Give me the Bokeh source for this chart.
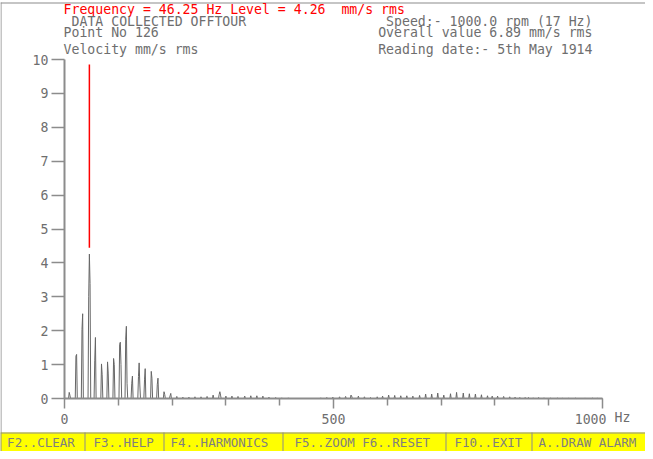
from bokeh.plotting import figure
from bokeh.models import Range1d, FixedTicker, Label, BoxAnnotation, ColumnDataSource
from bokeh.embed import file_html
from bokeh.resources import INLINE

# ---------------- data ----------------
cursor_text = "Frequency = 46.25 Hz Level = 4.26\u00a0 mm/s rms"
info_left = ["DATA COLLECTED OFFTOUR", "Point No 126", "Velocity mm/s rms"]
info_right = ["Speed:- 1000.0 rpm (17 Hz)", "Overall value 6.89 mm/s rms", "Reading date:- 5th May 1914"]
menu_items = ["F2..CLEAR", "F3..HELP", "F4..HARMONICS", "F5..ZOOM F6..RESET", "F10..EXIT", "A..DRAW ALARM"]

x_ticks = [0, 500, 1000]
x_tick_labels = {1000: "1000\u00a0\u00a0\u00a0"}   # last label sits left of its tick
x_minor_ticks = [100, 200, 300, 400, 600, 700, 800, 900]
y_ticks = [0, 1, 2, 3, 4, 5, 6, 7, 8, 9, 10]
x_unit = "Hz"

# spectral lines (Hz, mm/s rms); bins are 1.25 Hz apart
bin_hz = [8.75, 10.0,
          21.25, 22.5,
          32.5, 33.75,
          45.0, 46.25, 47.5,
          56.25, 57.5,
          68.75, 70.0,
          80.0, 81.25,
          91.25, 92.5,
          102.5, 103.75, 105.0,
          113.75, 115.0, 116.25,
          125.0, 126.25,
          137.5, 138.75, 140.0,
          148.75, 150.0,
          161.25, 162.5,
          172.5, 173.75,
          185.0, 186.25,
          196.25, 197.5,
          208.75, 220.0, 231.25, 242.5, 253.75, 265.0,
          276.25, 287.5, 288.75, 290.0,
          300.0, 311.25, 322.5, 335.0, 346.25, 357.5, 368.75, 380.0, 392.5, 403.75, 416.25,
          476.25, 487.5, 498.75, 511.25, 522.5, 532.5, 533.75, 546.25, 557.5, 568.75,
          581.25, 591.25, 602.5, 613.75, 625.0, 636.25, 647.5, 660.0, 671.25, 682.5,
          693.75, 705.0, 717.5, 728.75, 741.25, 752.5, 763.75, 775.0, 786.25, 795.0,
          805.0, 816.25, 827.5, 837.5, 846.25, 856.25, 862.5, 871.25, 881.25, 891.25,
          903.75, 916.25, 925.0, 937.5, 950.0, 967.5, 981.25, 990.0]
level = [0.18, 0.10,
         1.25, 1.30,
         2.03, 2.50,
         3.00, 4.26, 3.39,
         1.13, 1.80,
         1.02, 0.70,
         1.08, 0.75,
         1.18, 1.00,
         1.60, 1.66, 1.00,
         1.75, 2.13, 0.45,
         0.45, 0.66,
         0.65, 1.05, 0.40,
         0.55, 0.88,
         0.80, 0.60,
         0.42, 0.60,
         0.20, 0.12,
         0.08, 0.15,
         0.06, 0.04, 0.04, 0.05, 0.05, 0.06,
         0.10, 0.12, 0.20, 0.10,
         0.07, 0.07, 0.06, 0.07, 0.08, 0.08, 0.07, 0.04, 0.03, 0.02, 0.02,
         0.02, 0.03, 0.04, 0.05, 0.06, 0.10, 0.07, 0.07, 0.05, 0.03,
         0.05, 0.07, 0.10, 0.09, 0.08, 0.08, 0.07, 0.09, 0.13, 0.13,
         0.16, 0.10, 0.14, 0.18, 0.16, 0.14, 0.13, 0.11, 0.08, 0.07,
         0.07, 0.06, 0.05, 0.04, 0.03, 0.03, 0.03, 0.02, 0.03, 0.02,
         0.01, 0.01, 0.01, 0.01, 0.01, 0.01, 0.01, 0.01]

cursor_hz = 46.25
cursor_bottom = 4.45
cursor_top = 9.85

# ---------------- build spectrum trace ----------------
BIN = 1.25
xs, ys = [0.0], [0.0]
for i, (f, a) in enumerate(zip(bin_hz, level)):
    if i == 0 or f - bin_hz[i - 1] > BIN + 1e-6:
        xs.append(f - BIN); ys.append(0.0)
    xs.append(f); ys.append(a)
    if i == len(bin_hz) - 1 or bin_hz[i + 1] - f > BIN + 1e-6:
        xs.append(f + BIN); ys.append(0.0)
xs.append(1000.0); ys.append(0.0)
spec = ColumnDataSource(dict(x=xs, y=ys))

# ---------------- layout constants (pixels) ----------------
W, H = 645, 451
PX_X0, PX_X1 = 64.0, 602.0     # canvas x of 0 Hz and 1000 Hz
PX_Y0, PX_Y10 = 398.0, 59.0    # canvas y of level 0 and level 10
hz_per_px = 1000.0 / (PX_X1 - PX_X0)
lv_per_px = 10.0 / (PX_Y0 - PX_Y10)

GRAY = "#8c8c8c"
TXT = "#6e6e6e"
FONT = "DejaVu Sans Mono"
FS = "13.2px"

p = figure(width=W, height=H,
           x_range=Range1d(-PX_X0 * hz_per_px, 1000 + (W - PX_X1) * hz_per_px),
           y_range=Range1d(-(H - PX_Y0) * lv_per_px, 10 + PX_Y10 * lv_per_px),
           output_backend="svg", toolbar_location=None,
           min_border=0, min_border_left=0, min_border_right=0,
           min_border_top=0, min_border_bottom=0,
           background_fill_color="white", border_fill_color="white")
p.outline_line_color = None
p.xgrid.visible = False
p.ygrid.visible = False

xa = p.xaxis[0]
xa.fixed_location = 0
xa.bounds = (0, 1000)
xa.ticker = FixedTicker(ticks=x_ticks, minor_ticks=x_minor_ticks)
xa.major_label_overrides = x_tick_labels
xa.axis_line_color = GRAY
xa.axis_line_width = 2
xa.major_tick_line_color = GRAY
xa.minor_tick_line_color = GRAY
xa.major_tick_line_width = 1.5
xa.minor_tick_line_width = 1.5
xa.major_tick_in = 0
xa.major_tick_out = 10
xa.minor_tick_in = 0
xa.minor_tick_out = 7
xa.major_label_standoff = 3
xa.major_label_text_font = FONT
xa.major_label_text_font_size = FS
xa.major_label_text_color = TXT

ya = p.yaxis[0]
ya.fixed_location = 0
ya.bounds = (0, 10)
ya.ticker = FixedTicker(ticks=y_ticks, minor_ticks=[])
ya.axis_line_color = GRAY
ya.axis_line_width = 2
ya.major_tick_line_color = GRAY
ya.major_tick_line_width = 1.5
ya.major_tick_in = 0
ya.major_tick_out = 13
ya.minor_tick_out = 0
ya.minor_tick_in = 0
ya.major_label_standoff = 3
ya.major_label_text_font = FONT
ya.major_label_text_font_size = FS
ya.major_label_text_color = TXT

p.line("x", "y", source=spec, line_color="#666666", line_width=1)
p.segment(x0=[cursor_hz], y0=[cursor_bottom], x1=[cursor_hz], y1=[cursor_top],
          line_color="#ff0000", line_width=1.5)

# unit label next to the last tick
p.add_layout(Label(x=1000, y=0, x_offset=12, y_offset=-19, text=x_unit,
                   text_font=FONT, text_font_size=FS, text_color=TXT,
                   text_align="left", text_baseline="middle"))

# ---------------- screen furniture (screen units: from bottom-left) ----------------
def sbox(l, r, t, b, fill, line=None):
    p.add_layout(BoxAnnotation(left=l, right=r, top=H - t, bottom=H - b,
                               left_units="screen", right_units="screen",
                               top_units="screen", bottom_units="screen",
                               fill_color=fill, fill_alpha=1.0,
                               line_color=line, line_alpha=1.0 if line else 0.0))

# frame border: top and left edges
sbox(0, W, 2, 3, GRAY)
sbox(0, 1, 2, H, GRAY)

# menu bar
sbox(0, W, 432, H, "#ffff00")
sbox(0, W, 432, 433, GRAY)
sep_x = [0, 84, 163, 282, 445, 531]
for sx in sep_x:
    sbox(sx, sx + 1, 432, H, GRAY)

def stext(text, px, py, color=TXT, align="left", size=FS):
    p.add_layout(Label(x=px, y=H - py, x_units="screen", y_units="screen", text=text,
                       text_font=FONT, text_font_size=size, text_color=color,
                       text_align=align, text_baseline="middle"))

stext(cursor_text, 63, 9, color="#ff0000")
stext(info_left[0], 71, 21)
stext(info_left[1], 63, 32)
stext(info_left[2], 63, 49)
stext(info_right[0], 592, 21, align="right")
stext(info_right[1], 592, 32, align="right")
stext(info_right[2], 592, 49, align="right")

item_x = [6.6, 93, 170, 294, 454, 538]
for t, ix in zip(menu_items, item_x):
    stext(t, ix, 441.5, color="#7f7f7f", size="12.5px")

open("out.html", "w").write(file_html(p, INLINE))
